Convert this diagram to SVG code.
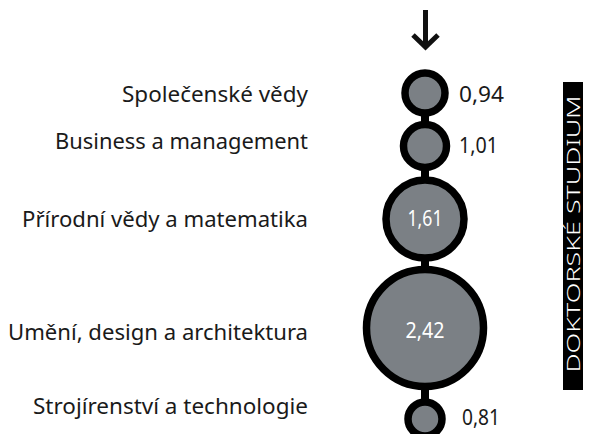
<svg xmlns="http://www.w3.org/2000/svg" width="598" height="434" viewBox="0 0 598 434">
<style>
.lbl{font-family:"Noto Sans","Open Sans",sans-serif;font-size:21.5px;fill:#1a1a1a;text-anchor:end}
.val{font-family:"Noto Sans","Open Sans",sans-serif;font-size:21.5px;fill:#1a1a1a}
.in{font-family:"Noto Sans","Open Sans",sans-serif;font-size:21px;fill:#ffffff;text-anchor:middle}
.node{fill:#7b8085;stroke:#000;stroke-width:7.5}
.stem{fill:#000}
.side{font-family:"Noto Sans","Open Sans",sans-serif;font-size:19px;font-weight:300;fill:#ffffff;text-anchor:middle}
</style>
<g id="arrow" fill="none" stroke="#111" stroke-width="5">
<line x1="425.5" y1="10" x2="425.5" y2="44"/>
<polyline points="413,35 425.5,47 438,35"/>
</g>
<g id="connectors">
<rect class="stem" x="421" y="110" width="8" height="16"/>
<rect class="stem" x="421" y="164" width="8" height="17"/>
<rect class="stem" x="421" y="255" width="8" height="16"/>
<rect class="stem" x="421" y="384" width="8" height="19"/>
</g>
<g id="n1">
<text class="lbl" x="308" y="102" textLength="186" lengthAdjust="spacingAndGlyphs">Společenské vědy</text>
<circle class="node" cx="425" cy="93" r="20"/>
<text class="val" x="459" y="102" textLength="45" lengthAdjust="spacingAndGlyphs">0,94</text>
</g>
<g id="n2">
<text class="lbl" x="308" y="149" textLength="253" lengthAdjust="spacingAndGlyphs">Business a management</text>
<circle class="node" cx="425" cy="146" r="21.5"/>
<text class="val" x="459" y="153" textLength="39" lengthAdjust="spacingAndGlyphs">1,01</text>
</g>
<g id="n3">
<text class="lbl" x="308" y="227" textLength="286" lengthAdjust="spacingAndGlyphs">Přírodní vědy a matematika</text>
<circle class="node" cx="425" cy="219" r="39"/>
<text class="in" x="425" y="226" textLength="35" lengthAdjust="spacingAndGlyphs">1,61</text>
</g>
<g id="n4">
<text class="lbl" x="308" y="340" textLength="300" lengthAdjust="spacingAndGlyphs">Umění, design a architektura</text>
<circle class="node" cx="425" cy="328" r="58.5"/>
<text class="in" x="425" y="338" textLength="39" lengthAdjust="spacingAndGlyphs">2,42</text>
</g>
<g id="n5">
<text class="lbl" x="308" y="414" textLength="275" lengthAdjust="spacingAndGlyphs">Strojírenství a technologie</text>
<circle class="node" cx="425" cy="419" r="17"/>
<text class="val" x="462" y="425" textLength="38" lengthAdjust="spacingAndGlyphs">0,81</text>
</g>
<g id="side">
<rect x="563" y="82" width="20" height="308" fill="#000"/>
<text class="side" transform="translate(580,234) rotate(-90)" x="0" y="0" textLength="277" lengthAdjust="spacingAndGlyphs">DOKTORSKÉ STUDIUM</text>
</g>
</svg>
